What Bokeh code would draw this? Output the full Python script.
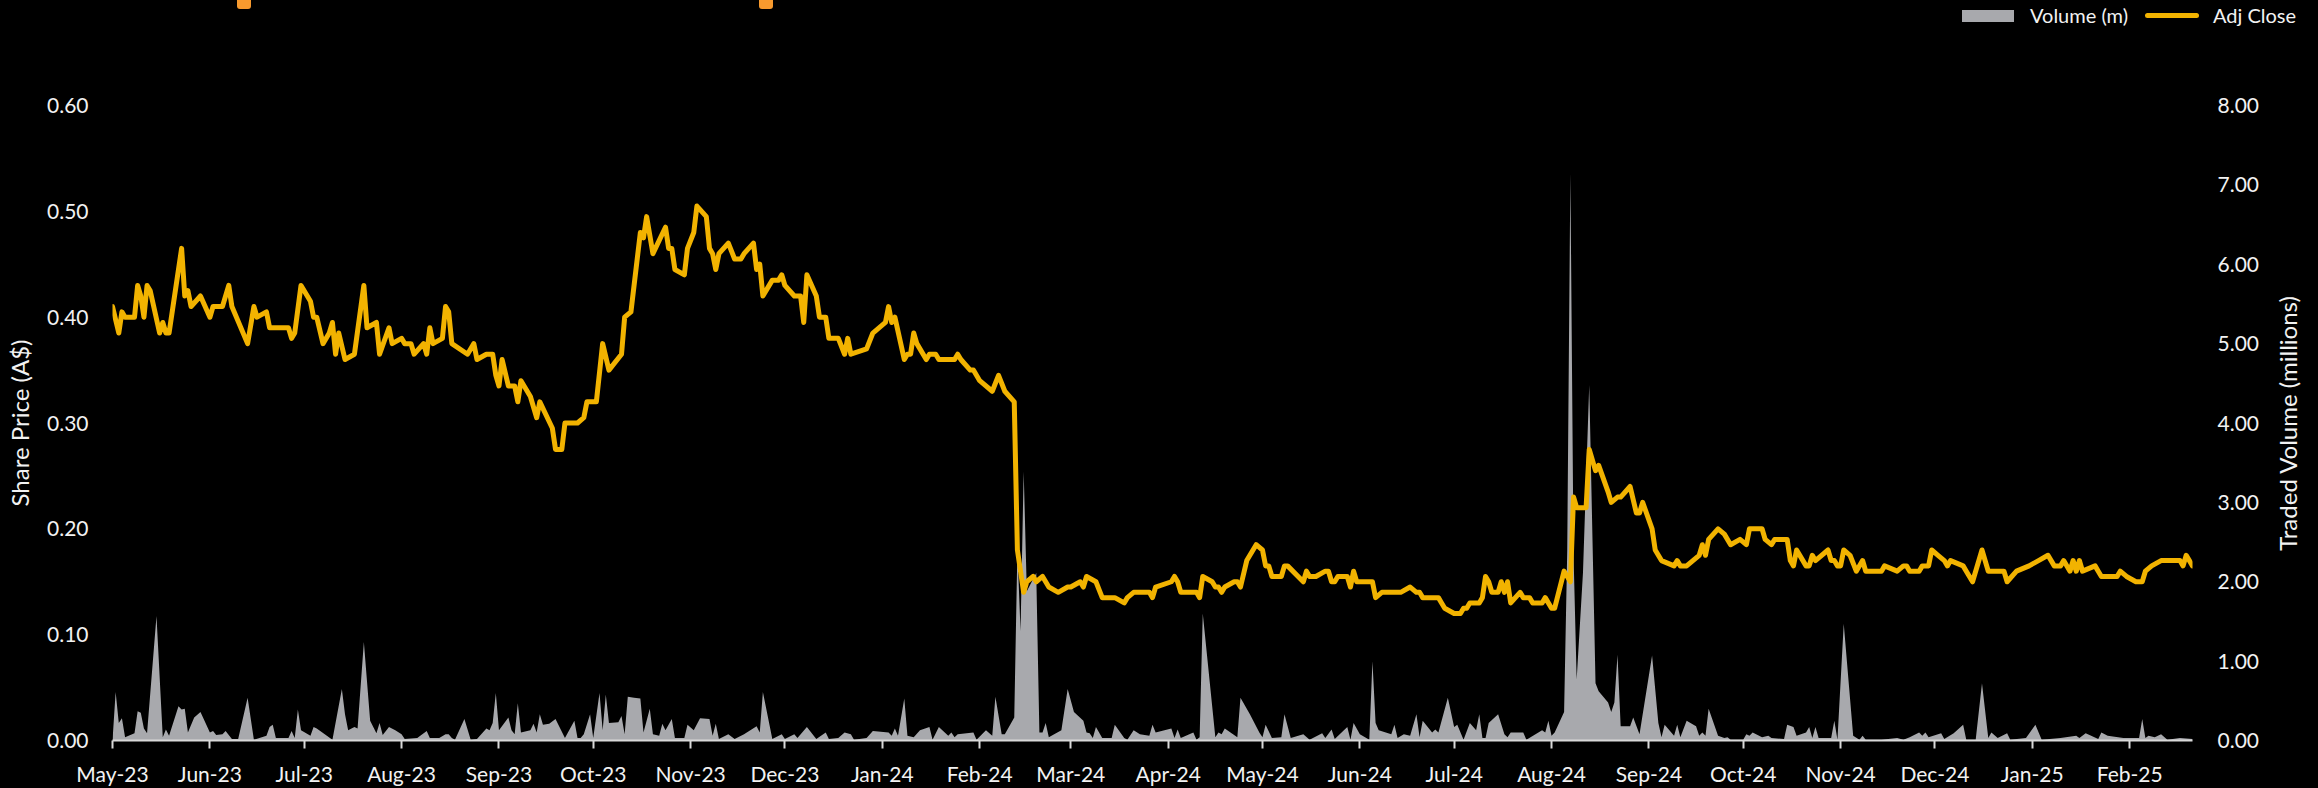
import pandas as pd
from bokeh.plotting import figure
from bokeh.layouts import column, row
from bokeh.models import (Range1d, LinearAxis, FixedTicker, NumeralTickFormatter,
                          DatetimeTickFormatter, ColumnDataSource, Div)
from bokeh.embed import file_html
from bokeh.resources import INLINE

# ---------------------------------------------------------------- data
START = pd.Timestamp("2023-05-01")

# trading days counted from START, with adjusted close in A$
price_day = [
    0, 2, 3, 4, 7, 8, 9, 10, 11, 12, 15, 16, 17, 18, 22, 23, 24, 25, 28, 31,
    32, 35, 37, 38, 43, 45, 46, 49, 50, 51, 56, 57, 58, 60, 63, 64, 65, 67, 69, 70,
    71, 72, 74, 77, 80, 81, 84, 85, 88, 89, 92, 93, 95, 96, 99, 100, 101, 102, 105, 106,
    107, 108, 113, 115, 116, 119, 121, 122, 123, 124, 126, 128, 129, 130, 133, 135, 136, 140, 141, 143,
    144, 148, 150, 151, 154, 156, 158, 162, 163, 165, 168, 169, 170, 172, 176, 177, 178, 179, 182, 183,
    185, 186, 189, 190, 191, 192, 193, 196, 198, 200, 201, 204, 205, 206, 207, 210, 212, 213, 214, 217,
    219, 220, 221, 224, 225, 227, 228, 231, 233, 234, 235, 240, 242, 246, 247, 248, 249, 252, 253, 254,
    255, 256, 259, 260, 262, 263, 268, 269, 270, 273, 274, 276, 280, 282, 284, 287, 288, 290, 291, 293,
    294, 296, 298, 301, 304, 305, 308, 309, 310, 313, 315, 319, 322, 323, 325, 328, 330, 331, 332, 337,
    338, 339, 340, 345, 346, 347, 350, 351, 352, 353, 354, 357, 358, 359, 361, 364, 366, 367, 368, 369,
    372, 373, 374, 379, 380, 381, 383, 386, 387, 388, 389, 390, 393, 394, 395, 396, 401, 402, 404, 410,
    413, 415, 416, 417, 422, 423, 424, 427, 429, 430, 431, 432, 435, 436, 437, 438, 439, 441, 442, 443,
    444, 445, 448, 449, 451, 452, 455, 456, 458, 459, 462, 464, 465, 466, 469, 470, 472, 473, 476, 477,
    479, 480, 483, 485, 486, 487, 490, 491, 493, 497, 498, 499, 501, 505, 506, 507, 508, 511, 513, 515,
    518, 520, 521, 525, 526, 528, 529, 533, 534, 535, 536, 539, 540, 541, 542, 546, 547, 548, 549, 550,
    551, 553, 555, 557, 558, 563, 564, 568, 570, 571, 572, 575, 576, 578, 579, 581, 583, 584, 585, 589,
    590, 591, 592, 595, 597, 602, 603, 606, 610, 613, 616, 618, 620, 621, 623, 624, 625, 626, 627, 631,
    632, 633, 638, 639, 641, 644, 646, 647, 649, 652, 658, 659, 660, 662,
]
adj_close = [
    0.41, 0.385, 0.405, 0.40, 0.40, 0.43, 0.42, 0.40, 0.43, 0.425, 0.385, 0.395, 0.385, 0.385, 0.465, 0.42, 0.425, 0.41, 0.42, 0.40,
    0.41, 0.41, 0.43, 0.41, 0.375, 0.41, 0.40, 0.405, 0.39, 0.39, 0.39, 0.38, 0.385, 0.43, 0.415, 0.40, 0.40, 0.375, 0.385, 0.395,
    0.365, 0.385, 0.36, 0.365, 0.43, 0.39, 0.395, 0.365, 0.39, 0.375, 0.38, 0.375, 0.375, 0.365, 0.375, 0.365, 0.39, 0.375, 0.38, 0.41,
    0.405, 0.375, 0.365, 0.375, 0.36, 0.365, 0.365, 0.345, 0.335, 0.36, 0.335, 0.335, 0.32, 0.34, 0.325, 0.305, 0.32, 0.295, 0.275, 0.275,
    0.30, 0.30, 0.305, 0.32, 0.32, 0.375, 0.35, 0.365, 0.40, 0.405, 0.48, 0.475, 0.495, 0.46, 0.485, 0.465, 0.465, 0.445, 0.44, 0.465,
    0.48, 0.505, 0.495, 0.465, 0.46, 0.445, 0.46, 0.47, 0.455, 0.455, 0.46, 0.47, 0.445, 0.45, 0.42, 0.435, 0.435, 0.44, 0.43, 0.42,
    0.42, 0.395, 0.44, 0.42, 0.40, 0.40, 0.38, 0.38, 0.365, 0.38, 0.365, 0.37, 0.385, 0.395, 0.41, 0.395, 0.40, 0.36, 0.365, 0.365,
    0.385, 0.375, 0.36, 0.365, 0.365, 0.36, 0.36, 0.365, 0.36, 0.35, 0.35, 0.34, 0.33, 0.345, 0.33, 0.32, 0.18, 0.14, 0.15, 0.155,
    0.15, 0.155, 0.145, 0.14, 0.145, 0.145, 0.15, 0.145, 0.155, 0.15, 0.135, 0.135, 0.13, 0.135, 0.14, 0.14, 0.14, 0.135, 0.145, 0.15,
    0.155, 0.15, 0.14, 0.14, 0.135, 0.155, 0.15, 0.145, 0.145, 0.14, 0.145, 0.15, 0.15, 0.145, 0.17, 0.185, 0.18, 0.165, 0.165, 0.155,
    0.155, 0.165, 0.165, 0.15, 0.16, 0.155, 0.155, 0.16, 0.16, 0.15, 0.15, 0.155, 0.155, 0.145, 0.16, 0.15, 0.15, 0.135, 0.14, 0.14,
    0.145, 0.14, 0.14, 0.135, 0.135, 0.13, 0.125, 0.12, 0.12, 0.125, 0.125, 0.13, 0.13, 0.135, 0.155, 0.15, 0.14, 0.14, 0.15, 0.14,
    0.15, 0.13, 0.14, 0.135, 0.135, 0.13, 0.13, 0.135, 0.125, 0.125, 0.16, 0.15, 0.23, 0.22, 0.22, 0.275, 0.255, 0.26, 0.235, 0.225,
    0.23, 0.23, 0.24, 0.215, 0.215, 0.225, 0.20, 0.18, 0.17, 0.165, 0.17, 0.165, 0.165, 0.175, 0.185, 0.175, 0.19, 0.20, 0.195, 0.185,
    0.19, 0.185, 0.20, 0.20, 0.19, 0.185, 0.19, 0.19, 0.17, 0.165, 0.18, 0.165, 0.165, 0.175, 0.17, 0.18, 0.17, 0.17, 0.165, 0.165,
    0.18, 0.175, 0.16, 0.17, 0.16, 0.16, 0.165, 0.16, 0.165, 0.165, 0.16, 0.16, 0.165, 0.165, 0.18, 0.175, 0.17, 0.165, 0.17, 0.165,
    0.16, 0.155, 0.15, 0.18, 0.16, 0.16, 0.15, 0.16, 0.165, 0.17, 0.175, 0.165, 0.165, 0.17, 0.16, 0.17, 0.16, 0.17, 0.16, 0.165,
    0.16, 0.155, 0.155, 0.16, 0.155, 0.15, 0.15, 0.16, 0.165, 0.17, 0.17, 0.165, 0.175, 0.165,
]

# traded volume in millions of shares
volume_day = [
    0, 1, 2, 3, 4, 7, 8, 9, 10, 11, 14, 16, 17, 18, 21, 22, 23, 24, 26, 28,
    31, 32, 33, 35, 36, 38, 40, 43, 45, 49, 50, 51, 52, 56, 57, 58, 59, 60, 63, 64,
    65, 70, 73, 74, 75, 77, 78, 80, 82, 84, 85, 86, 88, 90, 92, 93, 97, 100, 101, 104,
    106, 107, 108, 109, 112, 114, 116, 119, 120, 121, 122, 123, 126, 127, 128, 129, 130, 133, 134, 135,
    136, 137, 139, 141, 144, 147, 148, 149, 150, 152, 153, 155, 156, 157, 158, 161, 162, 163, 164, 166,
    168, 169, 171, 172, 174, 175, 176, 178, 179, 182, 183, 185, 187, 190, 191, 192, 193, 196, 198, 201,
    205, 206, 207, 210, 213, 214, 217, 218, 221, 224, 227, 228, 231, 233, 235, 236, 240, 242, 247, 248,
    249, 250, 252, 253, 255, 257, 260, 261, 263, 266, 267, 268, 269, 274, 275, 278, 280, 281, 283, 284,
    287, 288, 289, 290, 291, 294, 295, 296, 297, 298, 302, 304, 306, 309, 310, 311, 312, 313, 315, 318,
    319, 322, 323, 325, 327, 330, 331, 332, 337, 338, 339, 340, 344, 345, 346, 347, 351, 352, 353, 354,
    358, 359, 362, 365, 366, 367, 369, 372, 373, 375, 379, 381, 385, 386, 388, 389, 393, 394, 395, 397,
    400, 401, 402, 403, 407, 408, 409, 411, 413, 415, 416, 417, 420, 421, 422, 425, 427, 428, 430, 432,
    434, 435, 436, 437, 438, 441, 443, 444, 445, 449, 450, 455, 456, 457, 458, 459, 462, 463, 464, 465,
    466, 468, 470, 472, 473, 476, 477, 478, 479, 480, 483, 484, 486, 490, 492, 493, 494, 497, 498, 499,
    501, 504, 505, 506, 507, 508, 511, 513, 514, 515, 519, 520, 521, 522, 525, 527, 528, 532, 533, 535,
    536, 539, 540, 541, 542, 543, 547, 548, 549, 551, 554, 556, 557, 558, 563, 568, 570, 572, 575, 576,
    577, 578, 582, 583, 586, 589, 590, 593, 595, 597, 598, 600, 603, 604, 609, 612, 614, 620, 625, 626,
    628, 632, 633, 635, 640, 645, 646, 647, 648, 650, 652, 654, 658, 662,
]
volume_m = [
    0.00, 0.61, 0.22, 0.28, 0.04, 0.09, 0.37, 0.35, 0.15, 0.09, 1.57, 0.04, 0.14, 0.06, 0.43, 0.39, 0.40, 0.10, 0.29, 0.36,
    0.10, 0.12, 0.07, 0.08, 0.12, 0.02, 0.02, 0.54, 0.01, 0.06, 0.17, 0.20, 0.03, 0.03, 0.12, 0.03, 0.39, 0.13, 0.06, 0.17,
    0.15, 0.01, 0.65, 0.33, 0.13, 0.17, 0.15, 1.24, 0.25, 0.09, 0.22, 0.07, 0.17, 0.13, 0.08, 0.02, 0.03, 0.12, 0.03, 0.03,
    0.08, 0.08, 0.03, 0.01, 0.27, 0.01, 0.02, 0.15, 0.13, 0.22, 0.60, 0.13, 0.29, 0.13, 0.08, 0.47, 0.10, 0.13, 0.21, 0.10,
    0.33, 0.20, 0.21, 0.27, 0.03, 0.25, 0.03, 0.03, 0.08, 0.33, 0.03, 0.60, 0.13, 0.58, 0.22, 0.23, 0.31, 0.08, 0.55, 0.54,
    0.53, 0.10, 0.40, 0.08, 0.06, 0.21, 0.13, 0.27, 0.03, 0.03, 0.20, 0.13, 0.28, 0.27, 0.06, 0.21, 0.02, 0.08, 0.02, 0.08,
    0.18, 0.10, 0.61, 0.02, 0.08, 0.02, 0.08, 0.03, 0.17, 0.02, 0.10, 0.02, 0.03, 0.10, 0.08, 0.01, 0.03, 0.12, 0.10, 0.06,
    0.15, 0.06, 0.53, 0.06, 0.04, 0.13, 0.17, 0.01, 0.17, 0.06, 0.10, 0.04, 0.08, 0.10, 0.01, 0.13, 0.06, 0.55, 0.08, 0.08,
    0.29, 2.40, 1.38, 3.39, 1.88, 2.11, 0.10, 0.10, 0.22, 0.04, 0.13, 0.65, 0.36, 0.25, 0.10, 0.09, 0.03, 0.17, 0.03, 0.03,
    0.20, 0.03, 0.01, 0.13, 0.08, 0.06, 0.20, 0.10, 0.15, 0.03, 0.14, 0.03, 0.10, 0.01, 0.04, 1.60, 0.04, 0.10, 0.08, 0.15,
    0.04, 0.54, 0.33, 0.10, 0.04, 0.20, 0.03, 0.04, 0.33, 0.03, 0.08, 0.01, 0.09, 0.03, 0.14, 0.02, 0.17, 0.01, 0.22, 0.08,
    0.01, 1.00, 0.22, 0.13, 0.08, 0.20, 0.03, 0.08, 0.06, 0.33, 0.04, 0.25, 0.10, 0.14, 0.10, 0.54, 0.17, 0.20, 0.01, 0.22,
    0.13, 0.33, 0.03, 0.03, 0.22, 0.33, 0.08, 0.04, 0.10, 0.10, 0.01, 0.13, 0.10, 0.25, 0.06, 0.10, 0.36, 2.40, 7.15, 2.35,
    0.77, 2.11, 4.48, 0.72, 0.62, 0.48, 0.36, 0.48, 1.08, 0.18, 0.18, 0.29, 0.08, 1.07, 0.22, 0.04, 0.20, 0.06, 0.20, 0.04,
    0.25, 0.18, 0.06, 0.10, 0.06, 0.40, 0.06, 0.03, 0.04, 0.01, 0.01, 0.08, 0.06, 0.10, 0.04, 0.06, 0.03, 0.02, 0.20, 0.17,
    0.06, 0.10, 0.17, 0.03, 0.17, 0.03, 0.03, 0.25, 0.01, 1.47, 0.06, 0.01, 0.06, 0.01, 0.01, 0.03, 0.01, 0.04, 0.10, 0.06,
    0.10, 0.04, 0.09, 0.02, 0.09, 0.20, 0.01, 0.01, 0.72, 0.03, 0.10, 0.03, 0.09, 0.01, 0.03, 0.20, 0.01, 0.03, 0.06, 0.03,
    0.09, 0.02, 0.10, 0.06, 0.03, 0.03, 0.27, 0.03, 0.06, 0.04, 0.08, 0.01, 0.03, 0.02,
]

price_ticks = [0.0, 0.1, 0.2, 0.3, 0.4, 0.5, 0.6]
volume_ticks = [0, 1, 2, 3, 4, 5, 6, 7, 8]
highlight_dates = ["2023-06-12", "2023-11-25"]
series_names = ["Volume (m)", "Adj Close"]
price_title = "Share Price (A$)"
volume_title = "Traded Volume (millions)"

# ---------------------------------------------------------------- styling
FONT = "Lato"
TEXT = "#F2F2F2"
GOLD = "#F2B300"
GREY = "#A8A9AD"
AXIS = "#D9D9D9"
TAB = "#F79A2E"

W, H = 2318, 788
HEADER_H = 30                     # header band holding the legend and tabs
MAIN_H = H - HEADER_H
TITLE_W = 56                      # narrow column carrying the right-hand axis title
MAIN_W = W - TITLE_W
LEFT = 112                        # left border of the plotting frame
RIGHT = 126 - TITLE_W             # right border (tick labels only)
TOP, BOTTOM = 105 - HEADER_H, 46

price_src = ColumnDataSource(dict(
    date=START + pd.to_timedelta(price_day, unit="D"), close=adj_close))
vol_src = ColumnDataSource(dict(
    date=START + pd.to_timedelta(volume_day, unit="D"), vol=volume_m))

end = START + pd.Timedelta(days=max(max(price_day), max(volume_day)))


def dark(fig):
    fig.outline_line_color = None
    fig.grid.visible = False


def quiet_axis(ax):
    ax.axis_line_color = None
    ax.major_tick_line_color = None
    ax.minor_tick_line_color = None
    ax.major_tick_out = 0
    ax.major_tick_in = 0
    ax.axis_label_text_font = FONT
    ax.axis_label_text_font_size = "24px"
    ax.axis_label_text_font_style = "normal"
    ax.axis_label_text_color = TEXT


# ---------------------------------------------------------------- main chart
p = figure(width=MAIN_W, height=MAIN_H, x_axis_type="datetime",
           x_range=Range1d(START, end), y_range=Range1d(0, 0.6),
           output_backend="svg", toolbar_location=None,
           min_border_left=LEFT, min_border_right=RIGHT,
           min_border_top=TOP, min_border_bottom=BOTTOM,
           background_fill_color="black", border_fill_color="black")
dark(p)
vol_range = Range1d(0, 8)
p.extra_y_ranges = {"vol": vol_range}

p.varea(x="date", y1=0, y2="vol", source=vol_src, y_range_name="vol",
        fill_color=GREY)
p.line(x="date", y="close", source=price_src, line_color=GOLD,
       line_width=5, line_join="round", line_cap="round")

# bottom (date) axis
xa = p.xaxis[0]
months = pd.date_range(START, end, freq="MS")
xa.ticker = FixedTicker(ticks=[m.value / 1e6 for m in months])
fmt = "%b-%y"
xa.formatter = DatetimeTickFormatter(days=fmt, months=fmt, years=fmt,
                                     hours=fmt, minutes=fmt, seconds=fmt,
                                     milliseconds=fmt, microseconds=fmt,
                                     hourmin=fmt, minsec=fmt)
xa.axis_line_color = AXIS
xa.axis_line_width = 2
xa.major_tick_line_color = AXIS
xa.major_tick_line_width = 2
xa.major_tick_out = 8
xa.major_tick_in = 0
xa.minor_tick_line_color = None
xa.major_label_standoff = 12
xa.major_label_text_font = FONT
xa.major_label_text_font_size = "21px"
xa.major_label_text_color = TEXT

# left (price) axis
ya = p.yaxis[0]
ya.ticker = FixedTicker(ticks=price_ticks)
ya.formatter = NumeralTickFormatter(format="0.00")
ya.axis_label = price_title
ya.axis_label_standoff = 10

# right (volume) axis: tick labels here, title in the narrow column beside it
ra = LinearAxis(y_range_name="vol")
ra.ticker = FixedTicker(ticks=volume_ticks)
ra.formatter = NumeralTickFormatter(format="0.00")
p.add_layout(ra, "right")

for ax, standoff in ((ya, 24), (ra, 25)):
    quiet_axis(ax)
    ax.major_label_standoff = standoff
    ax.major_label_text_font = FONT
    ax.major_label_text_font_size = "21px"
    ax.major_label_text_color = TEXT

# narrow companion figure whose left axis carries the volume title,
# so it reads bottom-to-top and is centred on the same frame height
side = figure(width=TITLE_W, height=MAIN_H, x_range=Range1d(0, 1), y_range=vol_range,
              output_backend="svg", toolbar_location=None, x_axis_location=None,
              min_border_left=39, min_border_right=0,
              min_border_top=TOP, min_border_bottom=BOTTOM,
              background_fill_color="black", border_fill_color="black")
dark(side)
sa = side.yaxis[0]
sa.ticker = FixedTicker(ticks=[volume_ticks[len(volume_ticks) // 2]])
sa.major_label_overrides = {volume_ticks[len(volume_ticks) // 2]: ""}
sa.axis_label = volume_title
sa.axis_label_standoff = 0
sa.major_label_standoff = 0
sa.major_label_text_font_size = "1px"
quiet_axis(sa)

# ---------------------------------------------------------------- header band
# orange tabs placed on the chart's own time scale
frame_w = MAIN_W - LEFT - RIGHT


def date_to_px(d):
    return LEFT + (pd.Timestamp(d) - START) / (end - START) * frame_w


tab_html = "".join(
    f'<div style="position:absolute;left:{date_to_px(d) - 7:.1f}px;top:0;width:14px;'
    f'height:9px;background:{TAB};border-radius:0 0 3px 3px;"></div>'
    for d in highlight_dates)

label_css = (f"position:absolute;top:0;line-height:30px;font-family:{FONT};"
             f"font-size:20px;color:{TEXT};white-space:nowrap;")
legend_html = (
    f'<div style="position:absolute;left:1962px;top:10px;width:52px;height:12px;background:{GREY};"></div>'
    f'<span style="{label_css}left:2030px;">{series_names[0]}</span>'
    f'<div style="position:absolute;left:2145px;top:13px;width:54px;height:5px;'
    f'border-radius:3px;background:{GOLD};"></div>'
    f'<span style="{label_css}left:2213px;">{series_names[1]}</span>'
)

header = Div(text=f'<div style="position:relative;width:{W}px;height:{HEADER_H}px;'
                  f'background:#000;">{tab_html}{legend_html}</div>',
             width=W, height=HEADER_H, margin=0)

page = column(header, row(p, side, spacing=0), spacing=0)
html = file_html(page, INLINE)
html = html.replace("<head>", "<head><style>html,body{background:#000;margin:0;}</style>", 1)
open("out.html", "w").write(html)
